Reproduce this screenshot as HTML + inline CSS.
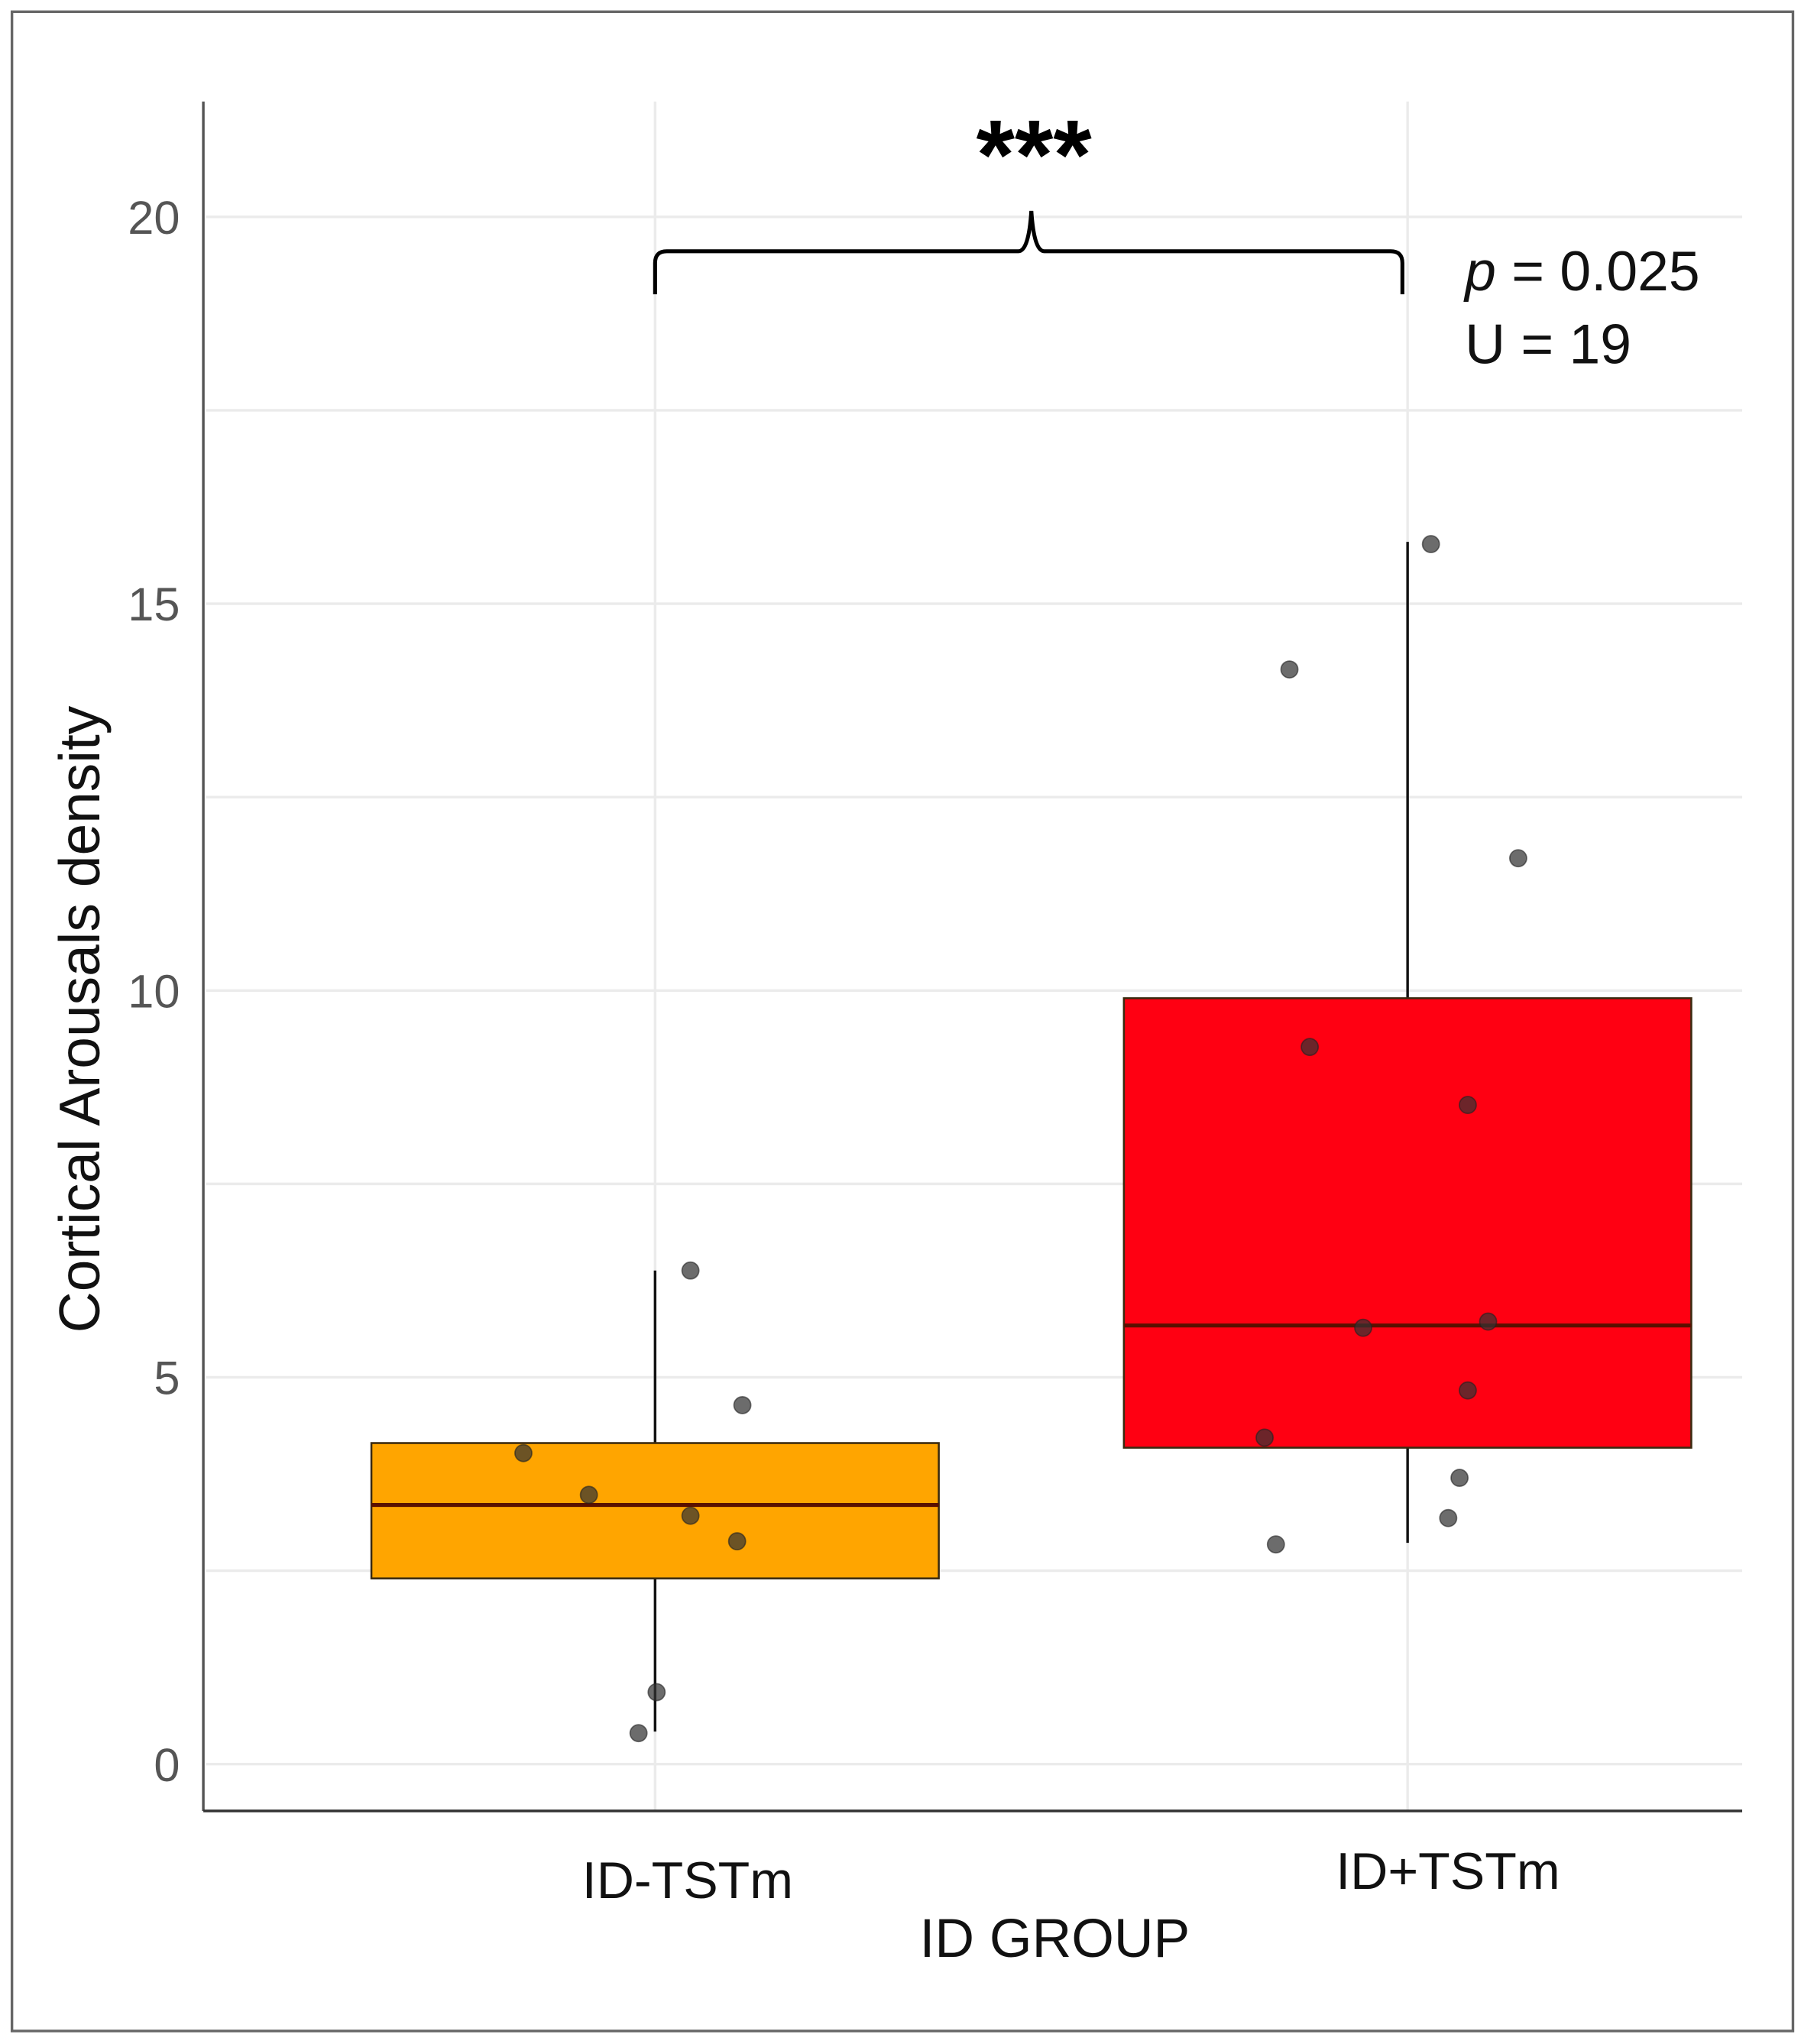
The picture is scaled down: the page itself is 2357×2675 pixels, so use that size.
<!DOCTYPE html>
<html><head><meta charset="utf-8"><style>
html,body{margin:0;padding:0;background:#fff}
svg{display:block}
text{font-family:"Liberation Sans",sans-serif}
</style></head><body>
<svg id="chart" width="2357" height="2675" viewBox="0 0 1383 1570" xmlns="http://www.w3.org/2000/svg">
<rect x="9" y="9" width="1368" height="1551" fill="#fff" stroke="#666" stroke-width="2"/>
<g id="grid"></g>
<g id="marks"></g>
<line x1="156" y1="78" x2="156" y2="1391" stroke="#555" stroke-width="2"/>
<line x1="156" y1="1391" x2="1338" y2="1391" stroke="#333" stroke-width="2"/>
<g id="yticks"></g>
<text transform="translate(76,783) rotate(-90)" text-anchor="middle" font-size="44" fill="#111">Cortical Arousals density</text>
<text x="528" y="1458" text-anchor="middle" font-size="40" fill="#111">ID-TSTm</text>
<text x="1112" y="1451" text-anchor="middle" font-size="40" fill="#111">ID+TSTm</text>
<text x="810" y="1503" text-anchor="middle" font-size="42" fill="#111">ID GROUP</text>
<path d="M503,226 L503,202 Q503,193 512,193 L782,193 Q790,193 792,162 Q794,193 802,193 L1068,193 Q1077,193 1077,202 L1077,226" fill="none" stroke="#000" stroke-width="3"/>
<text x="794" y="145" text-anchor="middle" font-size="76" font-weight="bold" fill="#000">***</text>
<text x="1125" y="223" font-size="43" fill="#111"><tspan font-style="italic">p</tspan> = 0.025</text>
<text x="1125" y="279" font-size="43" fill="#111">U = 19</text>
</svg>
<script>
const categories = ["ID-TSTm", "ID+TSTm"];
const q1 = [2.40, 4.09];
const medians = [3.35, 5.67];
const q3 = [4.15, 9.90];
const whiskerLow = [0.42, 2.86];
const whiskerHigh = [6.38, 15.80];
const boxColors = ["#FFA500", "#FF0012"];
const pointsA = [4.02, 3.48, 3.21, 2.88, 6.38, 4.64, 0.93, 0.40];
const jitterA = [-0.175, -0.088, 0.047, 0.109, 0.047, 0.116, 0.002, -0.022];
const pointsB = [15.77, 14.15, 11.71, 9.27, 8.52, 5.64, 5.72, 4.83, 4.22, 3.70, 3.18, 2.84];
const jitterB = [0.031, -0.157, 0.147, -0.130, 0.080, -0.059, 0.107, 0.080, -0.190, 0.069, 0.054, -0.175];
const yTicks = [0, 5, 10, 15, 20];
const yMinor = [2.5, 7.5, 12.5, 17.5];

const NS = "http://www.w3.org/2000/svg";
const y = v => 1355 - v * 59.42;
const x = i => 503 + i * 578;
const bandW = 578;
function mk(tag, attrs, parent) {
  const e = document.createElementNS(NS, tag);
  for (const k in attrs) e.setAttribute(k, attrs[k]);
  parent.appendChild(e);
  return e;
}
const grid = document.getElementById("grid");
const marks = document.getElementById("marks");
const yt = document.getElementById("yticks");
yTicks.concat(yMinor).forEach(v => {
  const l = mk("line", {x1: 158, x2: 1338, y1: y(v), y2: y(v), stroke: "#ebebeb", "stroke-width": 2}, grid);
  
  
});
categories.forEach((c, i) => {
  const l = mk("line", {x1: x(i), x2: x(i), y1: 78, y2: 1391, stroke: "#ebebeb", "stroke-width": 2}, grid);
  
  
});
yTicks.forEach(v => {
  const t = mk("text", {x: 138, y: y(v) + 13, "text-anchor": "end", "font-size": 36, fill: "#555"}, yt);
  t.textContent = v;
  
  
});
categories.forEach((c, i) => {
  const cx = x(i), hw = 0.377 * bandW;
  const w = mk("line", {x1: cx, x2: cx, y1: y(whiskerHigh[i]), y2: y(whiskerLow[i]), stroke: "#111", "stroke-width": 2}, marks);
  
  
  const b = mk("rect", {x: cx - hw, y: y(q3[i]), width: 2 * hw, height: y(q1[i]) - y(q3[i]), fill: boxColors[i], stroke: "#3a2a10", "stroke-width": 1.5}, marks);
  
  
  const m = mk("line", {x1: cx - hw, x2: cx + hw, y1: y(medians[i]), y2: y(medians[i]), stroke: "#5a1000", "stroke-width": 3}, marks);
  
  
});
[[pointsA, jitterA, 0], [pointsB, jitterB, 1]].forEach(([pts, jit, i]) => {
  pts.forEach((v, k) => {
    const p = mk("circle", {cx: x(i) + jit[k] * bandW, cy: y(v), r: 6.5, fill: "#333", "fill-opacity": 0.72, stroke: "#222", "stroke-opacity": 0.6, "stroke-width": 1}, marks);
    
    
  });
});
</script>
</body></html>
